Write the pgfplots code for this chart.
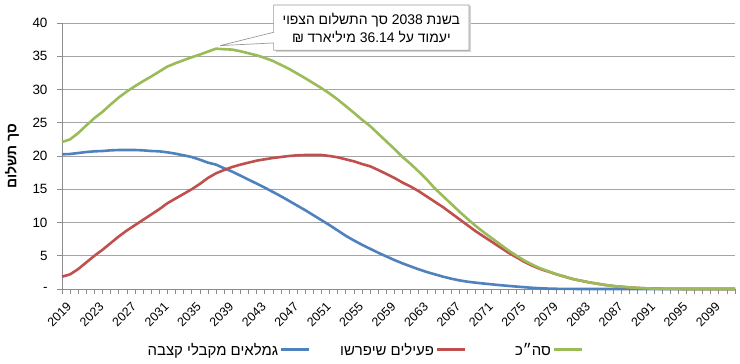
\documentclass[border=0pt]{standalone}
\usepackage{fontspec}
\setmainfont{Liberation Sans}
\newfontfamily\heb[Script=Hebrew]{Liberation Sans}
\usepackage{pgfplots}
\usepackage{pgfplotstable}
\pgfplotsset{compat=1.18}
\TeXXeTstate=1
\definecolor{cgreen}{RGB}{155,187,89}
\definecolor{cred}{RGB}{192,80,77}
\definecolor{cblue}{RGB}{79,129,189}
\definecolor{cgrid}{RGB}{165,165,165}
\definecolor{caxis}{RGB}{140,140,140}
\newcommand{\lsample}[1]{\hspace{3bp}{\color{#1}\rule[0.3em]{28bp}{3bp}}}

\pgfplotstableread{
year blue red green
2019 20.25 1.85 22.1
2020 20.3 2.2 22.5
2021 20.45 3.0 23.45
2022 20.6 4.0 24.6
2023 20.7 5.0 25.7
2024 20.75 5.9 26.65
2025 20.85 6.9 27.75
2026 20.9 7.9 28.8
2027 20.9 8.8 29.7
2028 20.9 9.6 30.5
2029 20.85 10.4 31.25
2030 20.75 11.2 31.95
2031 20.7 12.0 32.7
2032 20.55 12.9 33.45
2033 20.35 13.6 33.95
2034 20.1 14.3 34.4
2035 19.85 15.0 34.85
2036 19.45 15.8 35.25
2037 19.0 16.7 35.7
2038 18.7 17.4 36.14
2039 18.15 17.9 36.05
2040 17.65 18.35 36.0
2041 17.05 18.7 35.75
2042 16.45 19.0 35.45
2043 15.85 19.3 35.15
2044 15.25 19.5 34.75
2045 14.6 19.7 34.3
2046 13.95 19.85 33.7
2047 13.25 20.0 33.1
2048 12.55 20.1 32.4
2049 11.85 20.15 31.7
2050 11.1 20.15 30.95
2051 10.35 20.15 30.2
2052 9.6 20.0 29.4
2053 8.8 19.8 28.5
2054 8.0 19.5 27.5
2055 7.3 19.2 26.5
2056 6.65 18.8 25.45
2057 6.05 18.45 24.5
2058 5.45 17.9 23.35
2059 4.9 17.3 22.2
2060 4.35 16.7 21.05
2061 3.85 16.0 19.85
2062 3.4 15.4 18.8
2063 2.95 14.7 17.65
2064 2.55 13.9 16.45
2065 2.2 13.1 15.1
2066 1.85 12.3 13.95
2067 1.55 11.4 12.8
2068 1.3 10.5 11.65
2069 1.1 9.6 10.55
2070 0.95 8.7 9.5
2071 0.82 7.9 8.55
2072 0.7 7.1 7.65
2073 0.58 6.3 6.75
2074 0.47 5.5 5.85
2075 0.37 4.8 5.05
2076 0.27 4.1 4.3
2077 0.18 3.5 3.65
2078 0.11 3.0 3.1
2079 0.06 2.6 2.65
2080 0.03 2.2 2.22
2081 0.02 1.85 1.86
2082 0.01 1.5 1.5
2083 0 1.25 1.25
2084 0 1.0 1.0
2085 0 0.8 0.8
2086 0 0.6 0.6
2087 0 0.45 0.45
2088 0 0.33 0.33
2089 0 0.24 0.24
2090 0 0.16 0.16
2091 0 0.1 0.1
2092 0 0.06 0.06
2093 0 0.03 0.03
2094 0 0.02 0.02
2095 0 0.01 0.01
2096 0 0 0
2097 0 0 0
2098 0 0 0
2099 0 0 0
2100 0 0 0
2101 0 0 0
2102 0 0 0
}\data

\begin{document}
\begin{tikzpicture}
\begin{axis}[
  scale only axis, width=673bp, height=266bp,
  xmin=2019, xmax=2102, ymin=0, ymax=40,
  axis x line*=bottom, axis y line*=left,
  axis line style={caxis, line width=0.8bp},
  xtick={2019,2023,2027,2031,2035,2039,2043,2047,2051,2055,2059,2063,2067,2071,2075,2079,2083,2087,2091,2095,2099},
  xticklabels={2019,2023,2027,2031,2035,2039,2043,2047,2051,2055,2059,2063,2067,2071,2075,2079,2083,2087,2091,2095,2099},
  minor xtick={2019,2020,...,2102},
  ytick={0,5,...,40},
  yticklabels={-,5,10,15,20,25,30,35,40},
  ymajorgrids, grid style={cgrid, line width=0.8bp},
  tick align=outside, major tick length=5bp, minor tick length=5bp,
  tick style={caxis, line width=0.6bp},
  x tick label style={xshift=4bp, yshift=-6bp, rotate=45, anchor=north east, font=\fontsize{12.5}{12.5}\selectfont, inner sep=1bp},
  y tick label style={font=\fontsize{13.5}{13.5}\selectfont, xshift=-6bp},
  ylabel={\heb\bfseries\beginR סך תשלום\endR},
  every axis y label/.style={at={(axis description cs:-0.0743,0.5)}, rotate=90, anchor=center, font=\fontsize{14}{14}\selectfont},
  clip=false,
  legend columns=3, legend plot pos=none,
  legend style={at={(0.450,-0.229)}, anchor=center, draw=none, fill=none,
    font=\heb\fontsize{15}{15}\selectfont,
    nodes={inner sep=0bp},
    /tikz/column sep=31bp},
]
\addplot[cblue, line width=2.6bp] table[x=year, y=blue] {\data};
\addlegendentry{\beginR גמלאים מקבלי קצבה\endR\lsample{cblue}}
\addplot[cred, line width=2.6bp] table[x=year, y=red] {\data};
\addlegendentry{\beginR פעילים שיפרשו\endR\lsample{cred}}
\addplot[cgreen, line width=2.6bp] table[x=year, y=green] {\data};
\addlegendentry{\hspace*{19bp}\beginR סה״כ\endR\lsample{cgreen}}

\fill[gray!35] (axis cs:2045.35,42.5) rectangle (axis cs:2069.45,35.7);
\draw[gray!80, fill=white, line width=0.7bp]
  (axis cs:2045.1,42.7) -- (axis cs:2069.2,42.7) -- (axis cs:2069.2,35.9)
  -- (axis cs:2045.1,35.9) -- (axis cs:2045.1,37.0) -- (axis cs:2038.5,36.6)
  -- (axis cs:2045.1,38.6) -- cycle;
\node[font=\heb\fontsize{14}{18}\selectfont, align=center] at (axis cs:2057.15,39.3)
  {\beginR בשנת \beginL 2038\endL{} סך התשלום הצפוי\endR\\
   \beginR יעמוד על \beginL 36.14\endL{} מיליארד ₪\endR};
\end{axis}
\pgfresetboundingbox
\path[use as bounding box] ([xshift=-62bp,yshift=-75bp]current axis.south west) rectangle ([xshift=5bp,yshift=23bp]current axis.north east);
\end{tikzpicture}
\end{document}
